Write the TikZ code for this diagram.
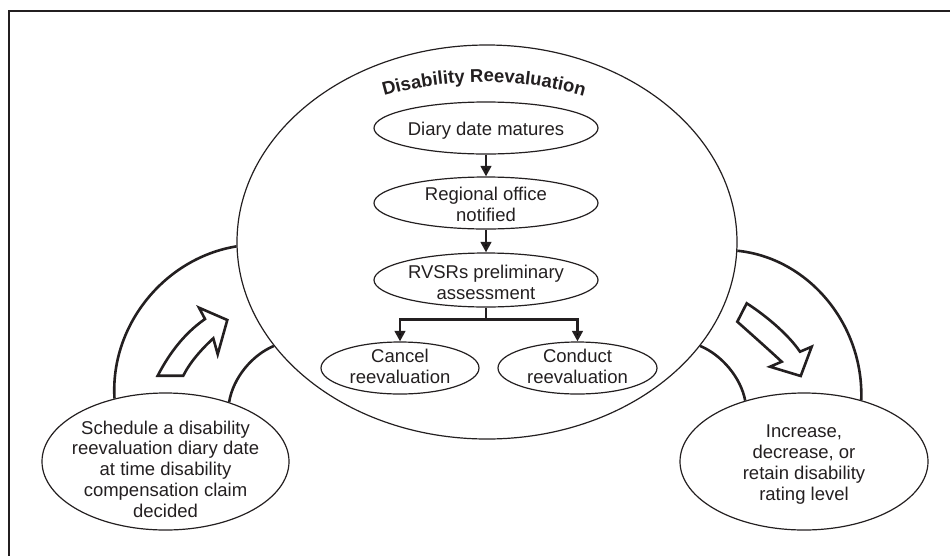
\documentclass[tikz,border=0pt]{standalone}
\usepackage{fontspec}
\setmainfont{Liberation Sans}
\usetikzlibrary{shapes.geometric,arrows.meta,decorations.text}
\definecolor{ink}{HTML}{231F20}
\newcommand\bodyfont{\fontsize{18.5}{20.8}\selectfont}
\newcommand\titlefont{\fontsize{18.5}{21}\selectfont\bfseries}
\begin{document}
\begin{tikzpicture}[x=1pt,y=-1pt,
  ell/.style={draw=ink, ellipse, inner sep=0pt, line width=1.2pt},
  txt/.style={align=center, font=\bodyfont, text=ink, inner sep=0pt},
  conn/.style={draw=ink, line width=2.6pt, -{Triangle[width=10.5pt,length=10.5pt]}},
  band/.style={draw=ink, line width=2.6pt},
  blockarrow/.style={draw=ink, fill=white, line width=2.6pt, line join=miter, miter limit=6}]
\useasboundingbox (0,0) rectangle (950,555);
% frame
\draw[ink, line width=1.7pt] (9,556) -- (9,11) -- (951,11);

% nodes
\node[ell, minimum width=500pt, minimum height=394pt] (cycle) at (487,242) {};
\node[ell, minimum width=224pt, minimum height=52pt,
      label={[txt,yshift=-3pt]center:Diary date matures}] (diary) at (486,128) {};
\node[ell, minimum width=224pt, minimum height=52pt,
      label={[txt,yshift=-1pt]center:Regional office\\notified}] (regional) at (486,203) {};
\node[ell, minimum width=224pt, minimum height=54pt,
      label={[txt,yshift=-2pt]center:RVSRs preliminary\\assessment}] (rvsr) at (486,280) {};
\node[ell, minimum width=158pt, minimum height=52pt,
      label={[txt,yshift=2pt]center:Cancel\\reevaluation}] (cancel) at (400,368) {};
\node[ell, minimum width=159pt, minimum height=52pt,
      label={[txt,yshift=2pt]center:Conduct\\reevaluation}] (conduct) at (577.5,368) {};
\node[ell, minimum width=247pt, minimum height=137pt,
      label={[txt,yshift=-7.5pt]center:Schedule a disability\\reevaluation diary date\\at time disability\\compensation claim\\decided}] (sched) at (165.5,461.5) {};
\node[ell, minimum width=248pt, minimum height=137pt,
      label={[txt,yshift=-3pt]center:Increase,\\decrease, or\\retain disability\\rating level}] (result) at (804,461.5) {};

% title along the top of the cycle ellipse
\path[decorate, decoration={text along path, text align=center, text color=ink,
      text={|\titlefont|Disability Reevaluation}}]
  (368,101) .. controls (443,75.7) and (525,75.7) .. (600,101);

% connectors inside
\draw[conn] (diary) -- (regional);
\draw[conn] (regional) -- (rvsr);
\draw[draw=ink, line width=2.6pt] (rvsr.south) -- ++(0,12) coordinate (fork);
\draw[conn] (fork) -| (cancel);
\draw[conn] (fork) -| (conduct);

% bands linking the outer ellipses to the cycle
\draw[band] (sched.129.9) .. controls (110,325) and (165,258) .. (cycle.181.6);
\draw[band] (sched.43.8) .. controls (233,378) and (252,355) .. (cycle.206);
\draw[band] (cycle.358.4) .. controls (809,258) and (864,325) .. (result.47.4);
\draw[band] (cycle.334) .. controls (722,355) and (741,378) .. (result.134);

% block arrows
\draw[blockarrow] (157.7,375.7) .. controls (170,352) and (185,333) .. (205,319)
  -- (199,307.7) -- (227.3,320) -- (217.7,354.3) -- (213.3,338.3)
  .. controls (205,346) and (191,360) .. (183.3,375.7) -- cycle;
\draw[blockarrow] (746.7,303.3) .. controls (765,315) and (788,334) .. (800,351.7)
  -- (811.7,346.7) -- (800.7,376) -- (770,366.7) -- (781.7,361.7)
  .. controls (768,349) and (750,333) .. (737.3,321.7) -- cycle;
\end{tikzpicture}
\end{document}
